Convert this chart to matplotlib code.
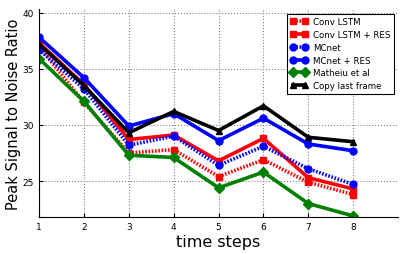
import matplotlib
matplotlib.use('Agg')
from matplotlib import pyplot as plt

steps = [1, 2, 3, 4, 5, 6, 7, 8]

conv_lstm = [37.0, 32.0, 27.5, 27.8, 25.4, 26.9, 24.9, 23.8]
conv_lstm_res = [37.3, 33.6, 28.7, 29.1, 26.8, 28.8, 25.3, 24.3]
mcnet = [36.7, 33.2, 28.2, 29.0, 26.4, 28.1, 26.1, 24.7]
mcnet_res = [37.8, 34.2, 29.9, 31.0, 28.6, 30.6, 28.3, 27.7]
matheiu = [35.9, 32.1, 27.3, 27.1, 24.4, 25.8, 23.0, 21.9]
copy_last = [37.2, 33.5, 29.3, 31.2, 29.5, 31.7, 28.9, 28.5]

fig = plt.figure(figsize=(4.07, 2.55), dpi=100)
ax = fig.add_axes([0.096, 0.145, 0.882, 0.815])

lw = 2.6
ms = 5
dots = (0.45, 0.45)
ax.plot(steps, conv_lstm, color='red', dashes=dots, linewidth=lw, marker='s', markersize=ms, label='Conv LSTM')
ax.plot(steps, conv_lstm_res, color='red', linestyle='-', linewidth=lw, marker='s', markersize=ms, label='Conv LSTM + RES')
ax.plot(steps, mcnet, color='blue', dashes=dots, linewidth=lw, marker='o', markersize=ms, label='MCnet')
ax.plot(steps, mcnet_res, color='blue', linestyle='-', linewidth=lw, marker='o', markersize=ms, label='MCnet + RES')
ax.plot(steps, matheiu, color='green', linestyle='-', linewidth=lw, marker='D', markersize=ms, label='Matheiu et al')
ax.plot(steps, copy_last, color='black', linestyle='-', linewidth=lw, marker='^', markersize=ms, label='Copy last frame')

ax.set_xlim(1, 9)
ax.set_ylim(21.8, 40.3)
ax.set_xticks(steps)
ax.set_yticks([25, 30, 35, 40])
ax.tick_params(labelsize=6.5, direction='in', length=3)
ax.spines['top'].set_visible(False)
ax.spines['right'].set_visible(False)
ax.grid(True, color='gray', linestyle=':', linewidth=0.8)

ax.set_xlabel('time steps', fontsize=11.5, labelpad=2)
ax.set_ylabel('Peak Signal to Noise Ratio', fontsize=10.5, labelpad=1.5)

leg = ax.legend(loc='upper right', fontsize=6.2, numpoints=2, fancybox=False,
                framealpha=1, edgecolor='black', handlelength=2.0, labelspacing=0.45,
                borderpad=0.4, handletextpad=0.6)
leg.get_frame().set_linewidth(0.8)

fig.savefig('out.png', dpi=100)
